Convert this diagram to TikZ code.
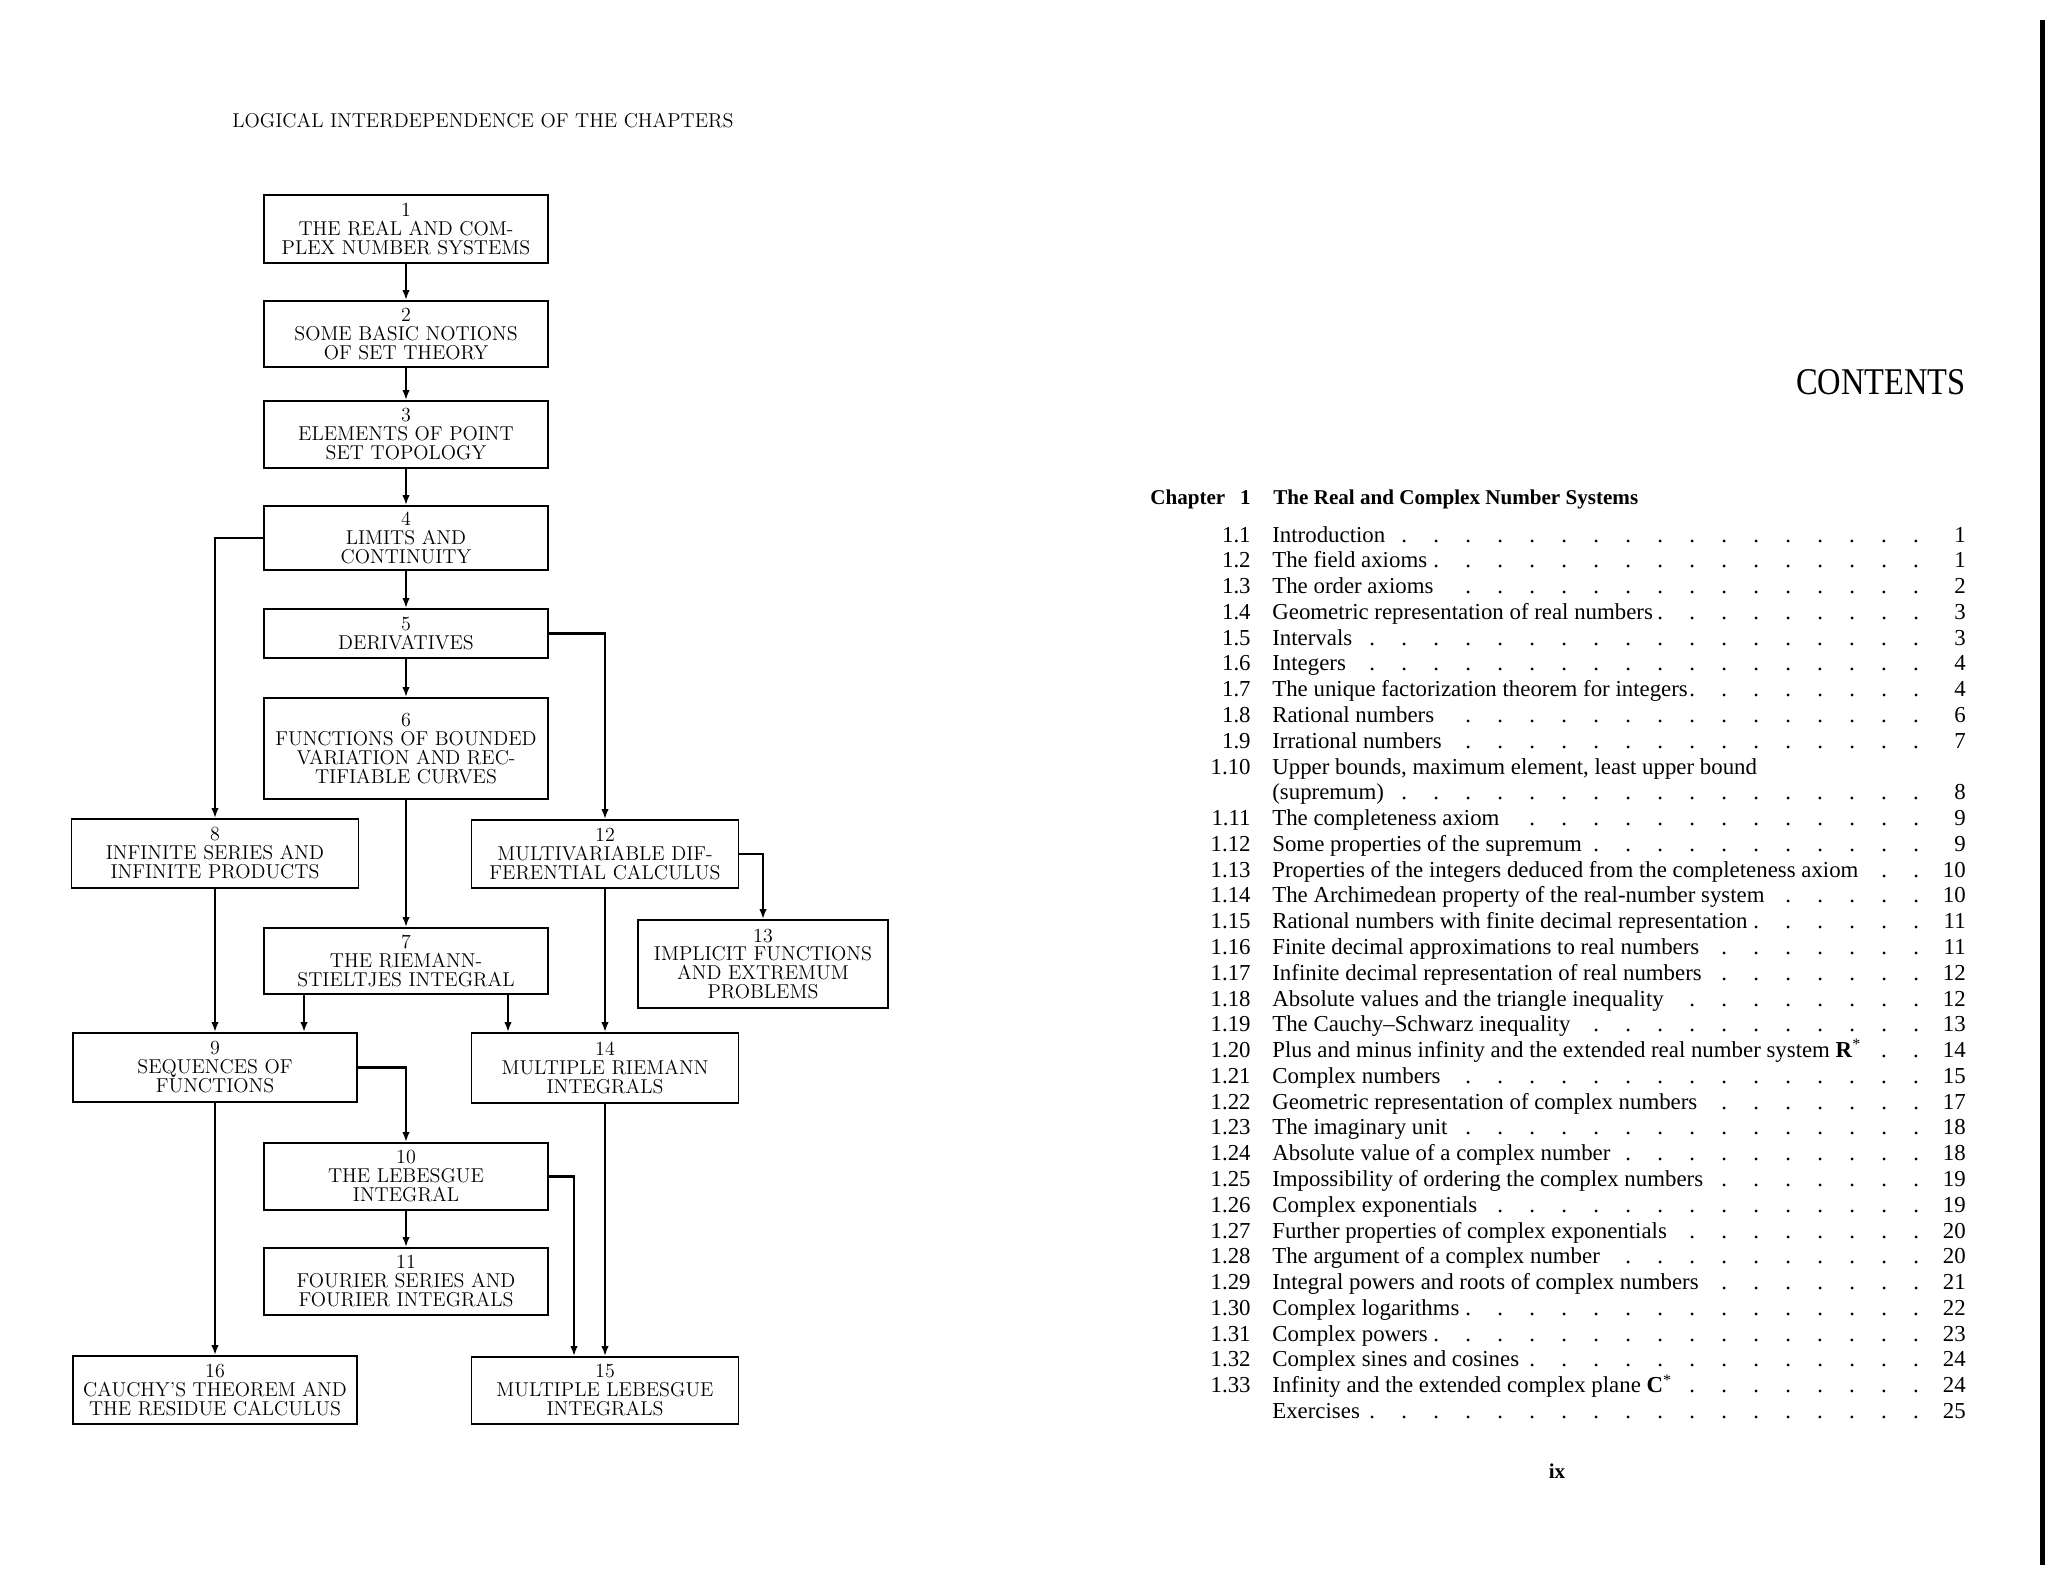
\documentclass[tikz,border=0pt]{standalone}
\usepackage{fontspec}
\usetikzlibrary{arrows.meta}
\newfontfamily\tocfont{Liberation Serif}
\newfontfamily\headfont[FakeStretch=0.86]{Liberation Serif}
\newcommand\boxfont{\fontsize{11.4}{10.8}\selectfont}
\newcommand\dotlead{\leaders\hbox to 0.64cm{\kern0.02cm.\hss}\hfill}
\tikzset{
  chap/.style={draw, line width=1.1pt, minimum width=5.68cm, inner sep=0pt, align=center, font=\boxfont},
  chapr/.style={chap, minimum width=5.34cm},
  arr/.style={line width=1.3pt, -{Latex[length=2mm,width=1.5mm]}},
  toc/.style={inner sep=0pt, font=\tocfont\fontsize{13}{15}\selectfont},
}
\begin{document}
\begin{tikzpicture}[x=0.02cm,y=-0.02cm]
\fill[white] (0,0) rectangle (2048,1582);
\useasboundingbox (0,0) rectangle (2048,1582);

\node[font=\boxfont] (title) at (483,121) {LOGICAL INTERDEPENDENCE OF THE CHAPTERS};

\node[chap, minimum height=1.36cm] (c1) at (406,229) {1\\THE REAL AND COM-\\PLEX NUMBER SYSTEMS};
\node[chap, minimum height=1.32cm] (c2) at (406,334) {2\\SOME BASIC NOTIONS\\OF SET THEORY};
\node[chap, minimum height=1.34cm] (c3) at (406,434.5) {3\\ELEMENTS OF POINT\\SET TOPOLOGY};
\node[chap, minimum height=1.28cm] (c4) at (406,538) {4\\LIMITS AND\\CONTINUITY};
\node[chap, minimum height=0.98cm] (c5) at (406,633.5) {5\\DERIVATIVES};
\node[chap, minimum height=2.02cm] (c6) at (406,748.5) {6\\FUNCTIONS OF BOUNDED\\VARIATION AND REC-\\TIFIABLE CURVES};
\node[chap, minimum height=1.32cm] (c7) at (406,961) {7\\THE RIEMANN-\\STIELTJES INTEGRAL};
\node[chap, minimum width=5.74cm, minimum height=1.38cm] (c8) at (215,853.5) {8\\INFINITE SERIES AND\\INFINITE PRODUCTS};
\node[chap, minimum height=1.38cm] (c9) at (215,1067.5) {9\\SEQUENCES OF\\FUNCTIONS};
\node[chap, minimum height=1.34cm] (c10) at (406,1176.5) {10\\THE LEBESGUE\\INTEGRAL};
\node[chap, minimum height=1.34cm] (c11) at (406,1281.5) {11\\FOURIER SERIES AND\\FOURIER INTEGRALS};
\node[chapr, minimum height=1.36cm] (c12) at (605,854) {12\\MULTIVARIABLE DIF-\\FERENTIAL CALCULUS};
\node[chap, minimum width=5cm, minimum height=1.76cm] (c13) at (763,964) {13\\IMPLICIT FUNCTIONS\\AND EXTREMUM\\PROBLEMS};
\node[chapr, minimum height=1.4cm] (c14) at (605,1068) {14\\MULTIPLE RIEMANN\\INTEGRALS};
\node[chapr, minimum height=1.34cm] (c15) at (605,1390.5) {15\\MULTIPLE LEBESGUE\\INTEGRALS};
\node[chap, minimum height=1.36cm] (c16) at (215,1390) {16\\CAUCHY'S THEOREM AND\\THE RESIDUE CALCULUS};

\coordinate (k79) at ([xshift=-2.04cm]c7.south);
\coordinate (k714) at ([xshift=2.04cm]c7.south);
\coordinate (k1015) at ([xshift=-0.62cm]c15.north);

\draw[arr] (c1) -- (c2);
\draw[arr] (c2) -- (c3);
\draw[arr] (c3) -- (c4);
\draw[arr] (c4) -- (c5);
\draw[arr] (c5) -- (c6);
\draw[arr] (c6) -- (c7);
\draw[arr] (c4.west) -| (c8.north);
\draw[arr] (c5.east) -| (c12.north);
\draw[arr] (c8) -- (c9);
\draw[arr] (k79) -- (k79 |- c9.north);
\draw[arr] (k714) -- (k714 |- c14.north);
\draw[arr] (c12.east) -| (c13.north);
\draw[arr] (c12) -- (c14);
\draw[arr] (c9.east) -| (c10.north);
\draw[arr] (c9) -- (c16);
\draw[arr] (c10) -- (c11);
\draw[arr] (c10.east) -| (k1015);
\draw[arr] (c14) -- (c15);

\node[anchor=base east, inner sep=0pt, font=\headfont\fontsize{21.5}{24}\selectfont] (contents) at (1966,394) {CONTENTS};
\node[anchor=base west, inner sep=0pt, font=\tocfont\bfseries\fontsize{12}{14}\selectfont] (chapword) at (1150,504) {Chapter};
\node[anchor=base east, inner sep=0pt, font=\tocfont\bfseries\fontsize{12}{14}\selectfont] (chapnum) at (1251,504) {1};
\node[anchor=base west, inner sep=0pt, font=\tocfont\bfseries\fontsize{12}{14}\selectfont] (chaptitle) at (1273,504) {The Real and Complex Number Systems};

\foreach \ln/\num/\ttl/\pg in {1/1.1/Introduction/1, 2/1.2/The field axioms/1, 3/1.3/The order axioms/2,
    4/1.4/Geometric representation of real numbers/3, 5/1.5/Intervals/3, 6/1.6/Integers/4,
    7/1.7/The unique factorization theorem for integers/4, 8/1.8/Rational numbers/6,
    9/1.9/Irrational numbers/7, 11/{}/(supremum)/8, 12/1.11/The completeness axiom/9,
    13/1.12/Some properties of the supremum/9,
    14/1.13/Properties of the integers deduced from the completeness axiom/10,
    15/1.14/The Archimedean property of the real-number system/10,
    16/1.15/Rational numbers with finite decimal representation/11,
    17/1.16/Finite decimal approximations to real numbers/11,
    18/1.17/Infinite decimal representation of real numbers/12,
    19/1.18/Absolute values and the triangle inequality/12,
    20/1.19/The Cauchy–Schwarz inequality/13,
    21/1.20/{Plus and minus infinity and the extended real number system \textbf{R}\textsuperscript{*}}/14,
    22/1.21/Complex numbers/15, 23/1.22/Geometric representation of complex numbers/17,
    24/1.23/The imaginary unit/18, 25/1.24/Absolute value of a complex number/18,
    26/1.25/Impossibility of ordering the complex numbers/19, 27/1.26/Complex exponentials/19,
    28/1.27/Further properties of complex exponentials/20, 29/1.28/The argument of a complex number/20,
    30/1.29/Integral powers and roots of complex numbers/21, 31/1.30/Complex logarithms/22,
    32/1.31/Complex powers/23, 33/1.32/Complex sines and cosines/24,
    34/1.33/{Infinity and the extended complex plane \textbf{C}\textsuperscript{*}}/24, 35/{}/Exercises/25}
{
  \node[toc, anchor=base east] (n\ln) at (1251,{542+(\ln-1)*25.78}) {\num};
  \node[toc, anchor=base west] (t\ln) at (1272,{542+(\ln-1)*25.78}) {\makebox[13.44cm][l]{\ttl\dotlead}};
  \node[toc, anchor=base east] (p\ln) at (1966,{542+(\ln-1)*25.78}) {\pg};
}
\node[toc, anchor=base east] (n10) at (1251,{542+9*25.78}) {1.10};
\node[toc, anchor=base west] (t10) at (1272,{542+9*25.78}) {Upper bounds, maximum element, least upper bound};

\node[font=\tocfont\bfseries\fontsize{12}{14}\selectfont] (folio) at (1557,1471) {ix};
\draw[line width=0.1cm] (2042,20) -- (2042,1565);
\end{tikzpicture}
\end{document}
